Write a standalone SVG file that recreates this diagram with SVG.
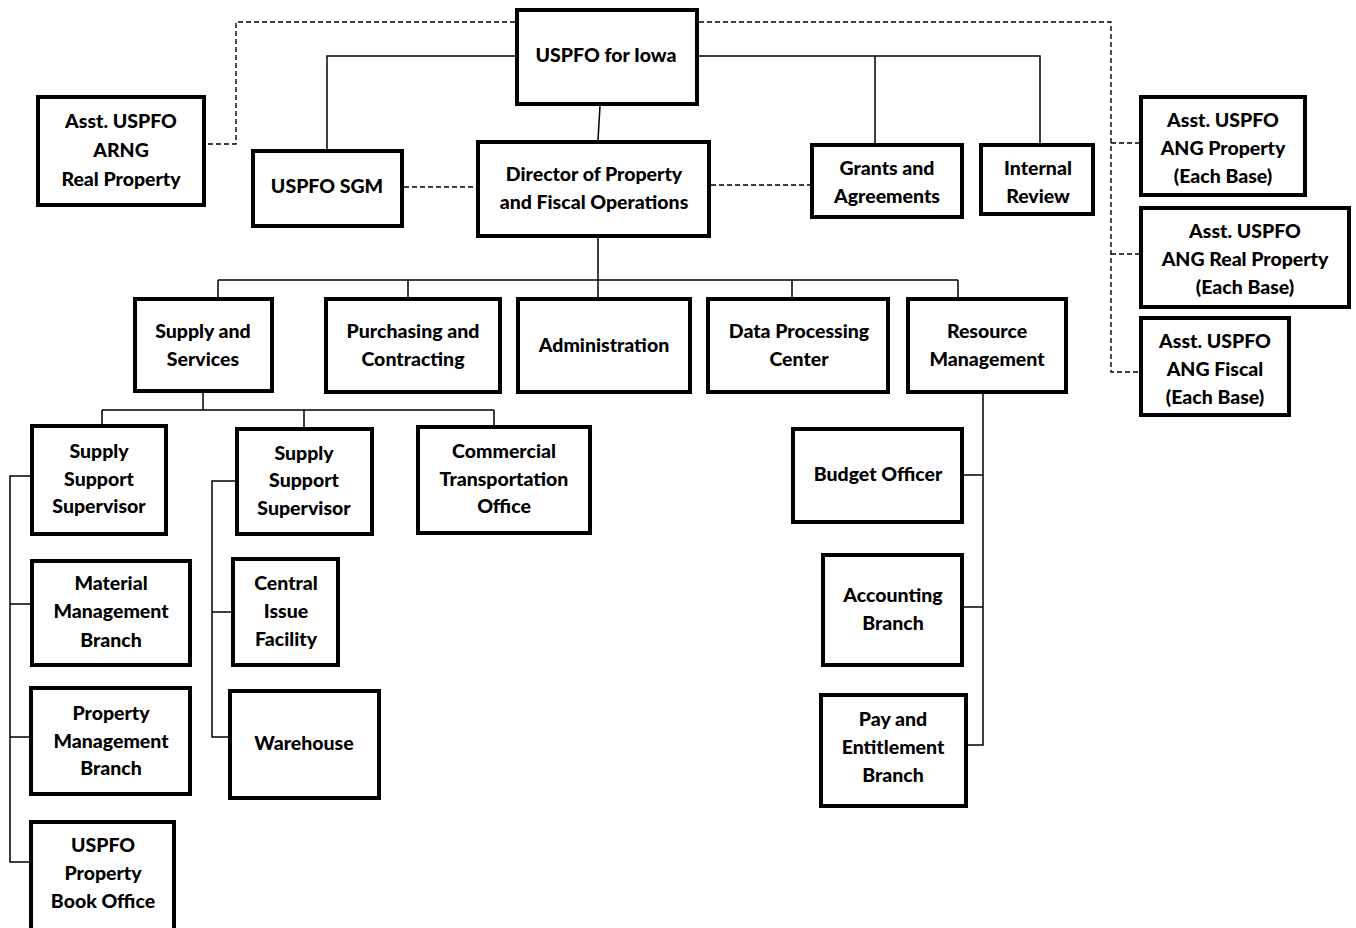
<svg xmlns="http://www.w3.org/2000/svg" width="1356" height="928" viewBox="0 0 1356 928">
<style>
.b{fill:#fff;stroke:#000;stroke-width:4}
.t{font-family:Lato,"Liberation Sans",sans-serif;font-weight:900;font-size:19.5px;text-anchor:middle;fill:#000}
.s{fill:none;stroke:#000;stroke-width:1.5}
.d{fill:none;stroke:#000;stroke-width:1.4;stroke-dasharray:5 3}
</style>
<rect width="1356" height="928" fill="#fff"/>
<g id="connectors">
<path class="d" d="M515 22H236V144H206M699 22H1111V372H1139M1111 143H1139M1111 254H1139M404 187H476M711 185H810"/>
<path class="s" d="M515 56H327V149M699 56H1040V143M875 56V143M600 106L598 140"/>
<path class="s" d="M598 238V280M218 280H958M218 280V297M408 280V297M598 280V297M792 280V297M958 280V297"/>
<path class="s" d="M203 393V410M102 410H494M102 410V424M304 410V427M494 410V425"/>
<path class="s" d="M30 476H10V862H30M10 604H30M10 737H29"/>
<path class="s" d="M235 481H212V737H228M212 612H231"/>
<path class="s" d="M983 394V745H966M983 475H964M983 607H964"/>
</g>
<g id="uspfo"><rect class="b" x="517" y="10" width="180" height="94"/><text class="t" x="606" y="62">USPFO for Iowa</text></g>
<g id="asst-arng"><rect class="b" x="38" y="97" width="166" height="108"/><text class="t" x="121" y="128">Asst. USPFO</text><text class="t" x="121" y="157">ARNG</text><text class="t" x="121" y="186">Real Property</text></g>
<g id="sgm"><rect class="b" x="253" y="151" width="149" height="75"/><text class="t" x="327" y="193">USPFO SGM</text></g>
<g id="director"><rect class="b" x="478" y="142" width="231" height="94"/><text class="t" x="594" y="181">Director of Property</text><text class="t" x="594" y="209">and Fiscal Operations</text></g>
<g id="grants"><rect class="b" x="812" y="145" width="150" height="72"/><text class="t" x="887" y="175">Grants and</text><text class="t" x="887" y="203">Agreements</text></g>
<g id="internal"><rect class="b" x="981" y="145" width="112" height="69"/><text class="t" x="1038" y="175">Internal</text><text class="t" x="1038" y="203">Review</text></g>
<g id="ang-property"><rect class="b" x="1141" y="97" width="164" height="98"/><text class="t" x="1223" y="127">Asst. USPFO</text><text class="t" x="1223" y="155">ANG Property</text><text class="t" x="1223" y="183">(Each Base)</text></g>
<g id="ang-real"><rect class="b" x="1141" y="208" width="208" height="99"/><text class="t" x="1245" y="238">Asst. USPFO</text><text class="t" x="1245" y="266">ANG Real Property</text><text class="t" x="1245" y="294">(Each Base)</text></g>
<g id="ang-fiscal"><rect class="b" x="1141" y="318" width="148" height="97"/><text class="t" x="1215" y="348">Asst. USPFO</text><text class="t" x="1215" y="376">ANG Fiscal</text><text class="t" x="1215" y="404">(Each Base)</text></g>
<g id="supply"><rect class="b" x="135" y="299" width="137" height="92"/><text class="t" x="203" y="338">Supply and</text><text class="t" x="203" y="366">Services</text></g>
<g id="purchasing"><rect class="b" x="326" y="299" width="174" height="93"/><text class="t" x="413" y="338">Purchasing and</text><text class="t" x="413" y="366">Contracting</text></g>
<g id="admin"><rect class="b" x="518" y="299" width="172" height="93"/><text class="t" x="604" y="352">Administration</text></g>
<g id="data"><rect class="b" x="708" y="299" width="180" height="93"/><text class="t" x="799" y="338">Data Processing</text><text class="t" x="799" y="366">Center</text></g>
<g id="resource"><rect class="b" x="908" y="299" width="158" height="93"/><text class="t" x="987" y="338">Resource</text><text class="t" x="987" y="366">Management</text></g>
<g id="sss1"><rect class="b" x="32" y="426" width="134" height="108"/><text class="t" x="99" y="458">Supply</text><text class="t" x="99" y="486">Support</text><text class="t" x="99" y="513">Supervisor</text></g>
<g id="sss2"><rect class="b" x="237" y="429" width="135" height="105"/><text class="t" x="304" y="460">Supply</text><text class="t" x="304" y="487">Support</text><text class="t" x="304" y="515">Supervisor</text></g>
<g id="cto"><rect class="b" x="418" y="427" width="172" height="106"/><text class="t" x="504" y="458">Commercial</text><text class="t" x="504" y="486">Transportation</text><text class="t" x="504" y="513">Office</text></g>
<g id="material"><rect class="b" x="32" y="561" width="158" height="104"/><text class="t" x="111" y="590">Material</text><text class="t" x="111" y="618">Management</text><text class="t" x="111" y="647">Branch</text></g>
<g id="central"><rect class="b" x="233" y="559" width="105" height="106"/><text class="t" x="286" y="590">Central</text><text class="t" x="286" y="618">Issue</text><text class="t" x="286" y="646">Facility</text></g>
<g id="property"><rect class="b" x="31" y="688" width="159" height="106"/><text class="t" x="111" y="720">Property</text><text class="t" x="111" y="748">Management</text><text class="t" x="111" y="775">Branch</text></g>
<g id="warehouse"><rect class="b" x="230" y="691" width="149" height="107"/><text class="t" x="304" y="750">Warehouse</text></g>
<g id="pbo"><rect class="b" x="31" y="822" width="143" height="110"/><text class="t" x="103" y="852">USPFO</text><text class="t" x="103" y="880">Property</text><text class="t" x="103" y="908">Book Office</text></g>
<g id="budget"><rect class="b" x="793" y="429" width="169" height="93"/><text class="t" x="878" y="481">Budget Officer</text></g>
<g id="accounting"><rect class="b" x="823" y="555" width="139" height="110"/><text class="t" x="893" y="602">Accounting</text><text class="t" x="893" y="630">Branch</text></g>
<g id="pay"><rect class="b" x="821" y="695" width="145" height="111"/><text class="t" x="893" y="726">Pay and</text><text class="t" x="893" y="754">Entitlement</text><text class="t" x="893" y="782">Branch</text></g>
</svg>
